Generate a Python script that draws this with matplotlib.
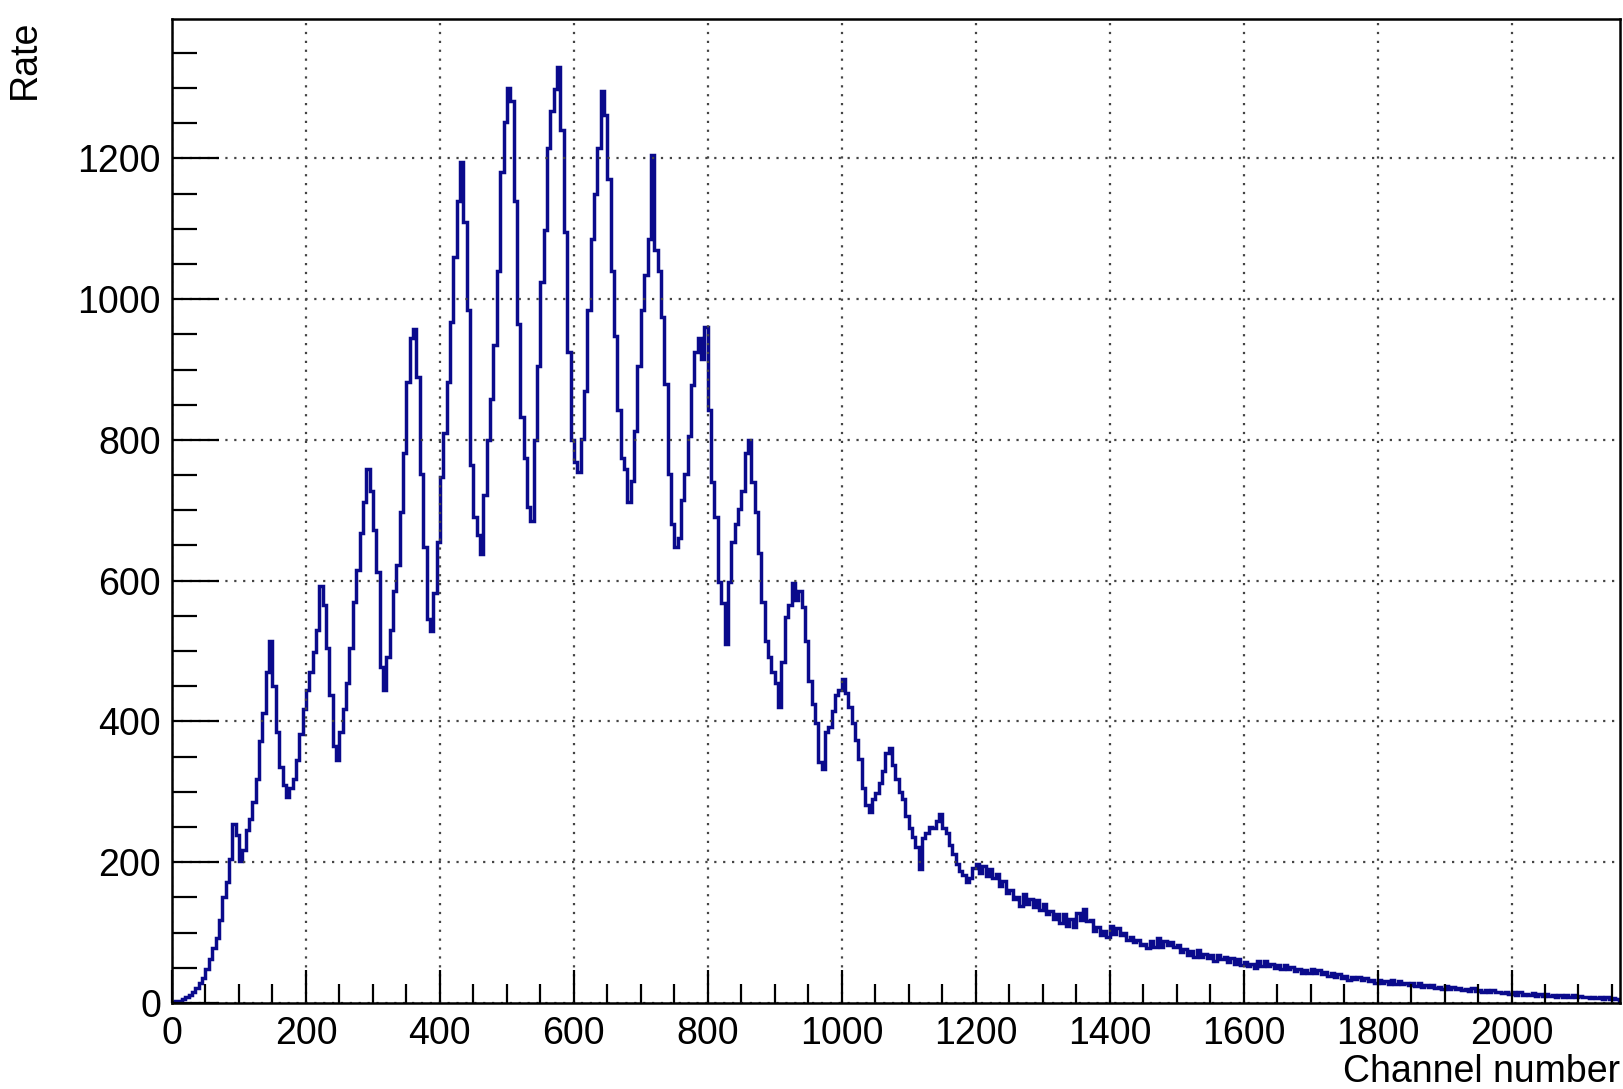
import numpy as np
import matplotlib
matplotlib.use("Agg")
from matplotlib import pyplot as plt
from matplotlib.ticker import MultipleLocator

# histogram content, 5 channels per bin, 0..2160 (one row = 100 channels)
bin_width = 5
rate = [
    1, 3, 3, 6, 8, 11, 16, 21, 28, 36, 48, 62, 78, 92, 118, 150, 172, 205, 255, 238,
    202, 218, 246, 262, 285, 318, 372, 412, 470, 515, 450, 385, 335, 310, 292, 305, 318, 345, 382, 418,
    445, 470, 498, 530, 592, 565, 505, 438, 365, 345, 385, 418, 455, 505, 570, 615, 668, 712, 758, 728,
    672, 612, 478, 445, 492, 530, 585, 622, 698, 782, 882, 945, 958, 890, 752, 648, 545, 528, 582, 655,
    748, 810, 882, 968, 1060, 1140, 1195, 1110, 985, 765, 690, 665, 638, 722, 800, 858, 935, 1040, 1180, 1252,
    1300, 1282, 1140, 965, 832, 775, 705, 685, 800, 905, 1025, 1098, 1215, 1268, 1298, 1330, 1240, 1095, 925, 800,
    768, 755, 802, 870, 985, 1085, 1150, 1215, 1295, 1262, 1170, 1040, 948, 842, 775, 758, 712, 742, 812, 905,
    985, 1035, 1085, 1205, 1070, 1040, 975, 880, 752, 680, 648, 660, 715, 752, 805, 878, 925, 945, 915, 960,
    842, 740, 690, 598, 568, 510, 598, 655, 680, 702, 728, 782, 800, 740, 698, 640, 570, 515, 492, 470,
    455, 420, 485, 548, 565, 596, 572, 585, 562, 515, 458, 425, 398, 342, 332, 385, 392, 415, 438, 445,
    460, 440, 420, 398, 374, 346, 305, 282, 272, 290, 298, 312, 330, 355, 362, 338, 318, 300, 290, 265,
    248, 236, 222, 190, 235, 242, 250, 248, 258, 268, 248, 242, 225, 212, 198, 188, 182, 172, 178, 192,
    198, 184, 194, 180, 191, 178, 183, 166, 174, 156, 160, 148, 150, 138, 155, 140, 148, 136, 146, 132,
    140, 126, 130, 120, 126, 114, 126, 110, 120, 108, 128, 118, 134, 116, 118, 102, 108, 96, 102, 94,
    110, 98, 106, 96, 100, 90, 94, 86, 90, 82, 84, 78, 88, 80, 92, 80, 88, 82, 86, 80,
    82, 72, 77, 68, 74, 66, 75, 66, 70, 64, 68, 60, 68, 62, 66, 58, 64, 56, 63, 54,
    58, 52, 55, 50, 60, 52, 59, 52, 56, 50, 54, 48, 54, 48, 51, 45, 48, 43, 47, 42,
    49, 42, 47, 41, 44, 39, 43, 37, 41, 35, 39, 33, 37, 34, 37, 32, 35, 31, 33, 29,
    33, 28, 31, 27, 32, 27, 31, 27, 29, 26, 28, 24, 28, 23, 26, 23, 25, 22, 23, 20,
    24, 20, 23, 20, 22, 19, 20, 17, 21, 17, 19, 16, 18, 15, 18, 15, 16, 14, 16, 13,
    15, 12, 16, 12, 13, 11, 14, 10, 13, 10, 13, 10, 11, 9, 11, 9, 11, 8, 11, 8,
    10, 8, 9, 7, 9, 7, 8, 6, 8, 6, 7, 6,
]
edges = np.arange(len(rate) + 1) * bin_width

plt.rcParams['font.family'] = ['Liberation Sans', 'DejaVu Sans']

fig = plt.figure(figsize=(16.23, 10.89), dpi=100)
ax = fig.add_axes([172 / 1623, 1 - 1003 / 1089, (1620 - 172) / 1623, (1003 - 19) / 1089])

ax.stairs(rate, edges, color='#0a0a8c', linewidth=2.5)

ax.set_xlim(0, 2162)
ax.set_ylim(0, 1398)

ax.xaxis.set_major_locator(MultipleLocator(200))
ax.xaxis.set_minor_locator(MultipleLocator(50))
ax.yaxis.set_major_locator(MultipleLocator(200))
ax.yaxis.set_minor_locator(MultipleLocator(50))

ax.grid(True, which='major', color='#444444', linestyle=(0, (1, 3)), linewidth=1.6)

ax.tick_params(axis='both', which='both', direction='in', width=1.6, color='black',
               labelsize=27, top=False, right=False)
ax.tick_params(axis='y', which='major', length=34, pad=8)
ax.tick_params(axis='y', which='minor', length=18)
ax.tick_params(axis='x', which='major', length=24, pad=9)
ax.tick_params(axis='x', which='minor', length=14)

for s in ax.spines.values():
    s.set_linewidth(1.8)
    s.set_color('black')

ax.set_xlabel('Channel number', fontsize=27, loc='right', labelpad=2)
fig.text(25 / 1623, 1 - 20 / 1089, 'Rate', fontsize=27, rotation=90, ha='center', va='top')

fig.savefig('out.png', dpi=100)
